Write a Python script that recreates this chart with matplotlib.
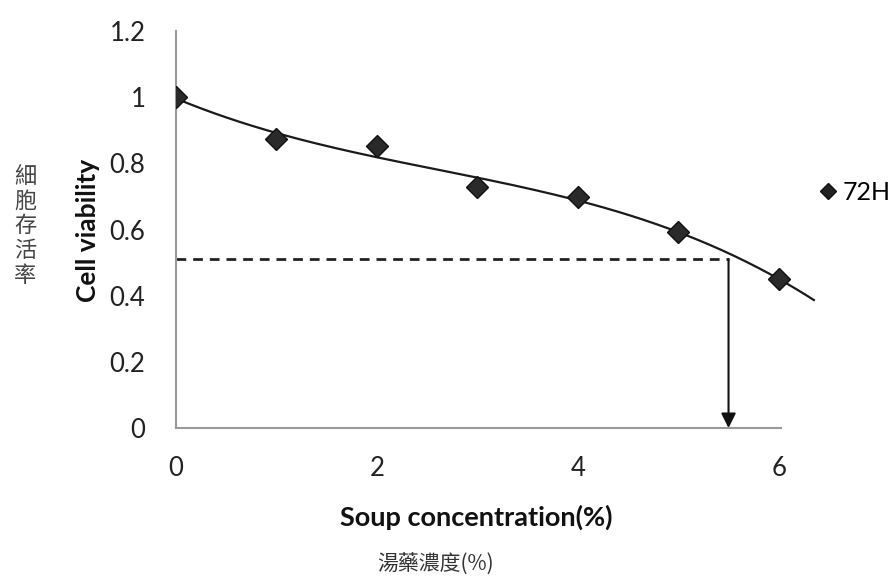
import numpy as np
import matplotlib
matplotlib.use("Agg")
import matplotlib.pyplot as plt
from matplotlib.lines import Line2D

plt.rcParams['font.family'] = ['Lato', 'Noto Sans CJK TC', 'DejaVu Sans']

# data
conc = [0, 1, 2, 3, 4, 5, 6]
viability = [1.00, 0.873, 0.852, 0.728, 0.698, 0.592, 0.45]
series_name = '72H'
xticks = [0, 2, 4, 6]
yticks = [0, 0.2, 0.4, 0.6, 0.8, 1, 1.2]
ytick_labels = ['0', '0.2', '0.4', '0.6', '0.8', '1', '1.2']
# 50% read-off guide
half_y = 0.51
half_x = 5.5

fig = plt.figure(figsize=(8.96, 5.8), dpi=100)
ax = fig.add_axes([0.1964, 0.262, 0.7176, 0.6846])

# polynomial trendline (excel style, forecast a bit forward)
coef = np.polyfit(conc, viability, 3)
tx = np.linspace(0, 6.35, 200)
ax.plot(tx, np.polyval(coef, tx), color='#1a1a1a', lw=1.6, zorder=2)

ax.plot(conc, viability, linestyle='none', marker='D', ms=11,
        mfc='#2a2a2a', mec='#111111', mew=1.0, zorder=3)

# dashed guide and arrow down to the x axis
ax.plot([0, half_x], [half_y, half_y], color='#222222', lw=2.0,
        dashes=(3.5, 2.5), zorder=2)
ax.annotate('', xy=(half_x, 0), xytext=(half_x, half_y),
            arrowprops=dict(arrowstyle='-|>', color='#111111', lw=1.5,
                            mutation_scale=22, shrinkA=0, shrinkB=0))

ax.set_xlim(0, 6.4)
ax.set_ylim(0, 1.2)
ax.set_xticks(xticks)
ax.set_yticks(yticks)
ax.set_yticklabels(ytick_labels)
ax.tick_params(length=0, labelsize=18.5, colors='#222222')
ax.tick_params(axis='y', pad=22)
ax.tick_params(axis='x', pad=20)

for s in ['top', 'right']:
    ax.spines[s].set_visible(False)
for s in ['left', 'bottom']:
    ax.spines[s].set_color('#999999')
    ax.spines[s].set_linewidth(1.5)
ax.spines['bottom'].set_bounds(0, 6.02)

fig.text(88/896, 1 - 230/580, 'Cell viability', rotation=90, fontsize=19,
         fontweight='bold', ha='center', va='center', color='#111111')
fig.text(25/896, 1 - 226/580, '\n'.join('細胞存活率'), fontsize=16,
         family=['Noto Sans CJK TC'], color='#444444', ha='center',
         va='center', linespacing=1.1)
fig.text(476/896, 1 - 517/580, 'Soup concentration(%)', fontsize=19.5,
         fontweight='bold', ha='center', va='center', color='#111111')
fig.text(436/896, 1 - 565/580, '湯藥濃度(%)', fontsize=15,
         family=['Noto Sans CJK TC', 'DejaVu Sans'], ha='center',
         va='center', color='#333333')

handle = Line2D([], [], linestyle='none', marker='D', ms=8.5,
                mfc='#222222', mec='#111111')
fig.legend([handle], [series_name], loc='center left',
           bbox_to_anchor=(820/896, 1 - 192/580), frameon=False,
           fontsize=18, handlelength=0.6, handletextpad=0.3,
           borderpad=0, borderaxespad=0)

fig.savefig('out.png', dpi=100, facecolor='white')
